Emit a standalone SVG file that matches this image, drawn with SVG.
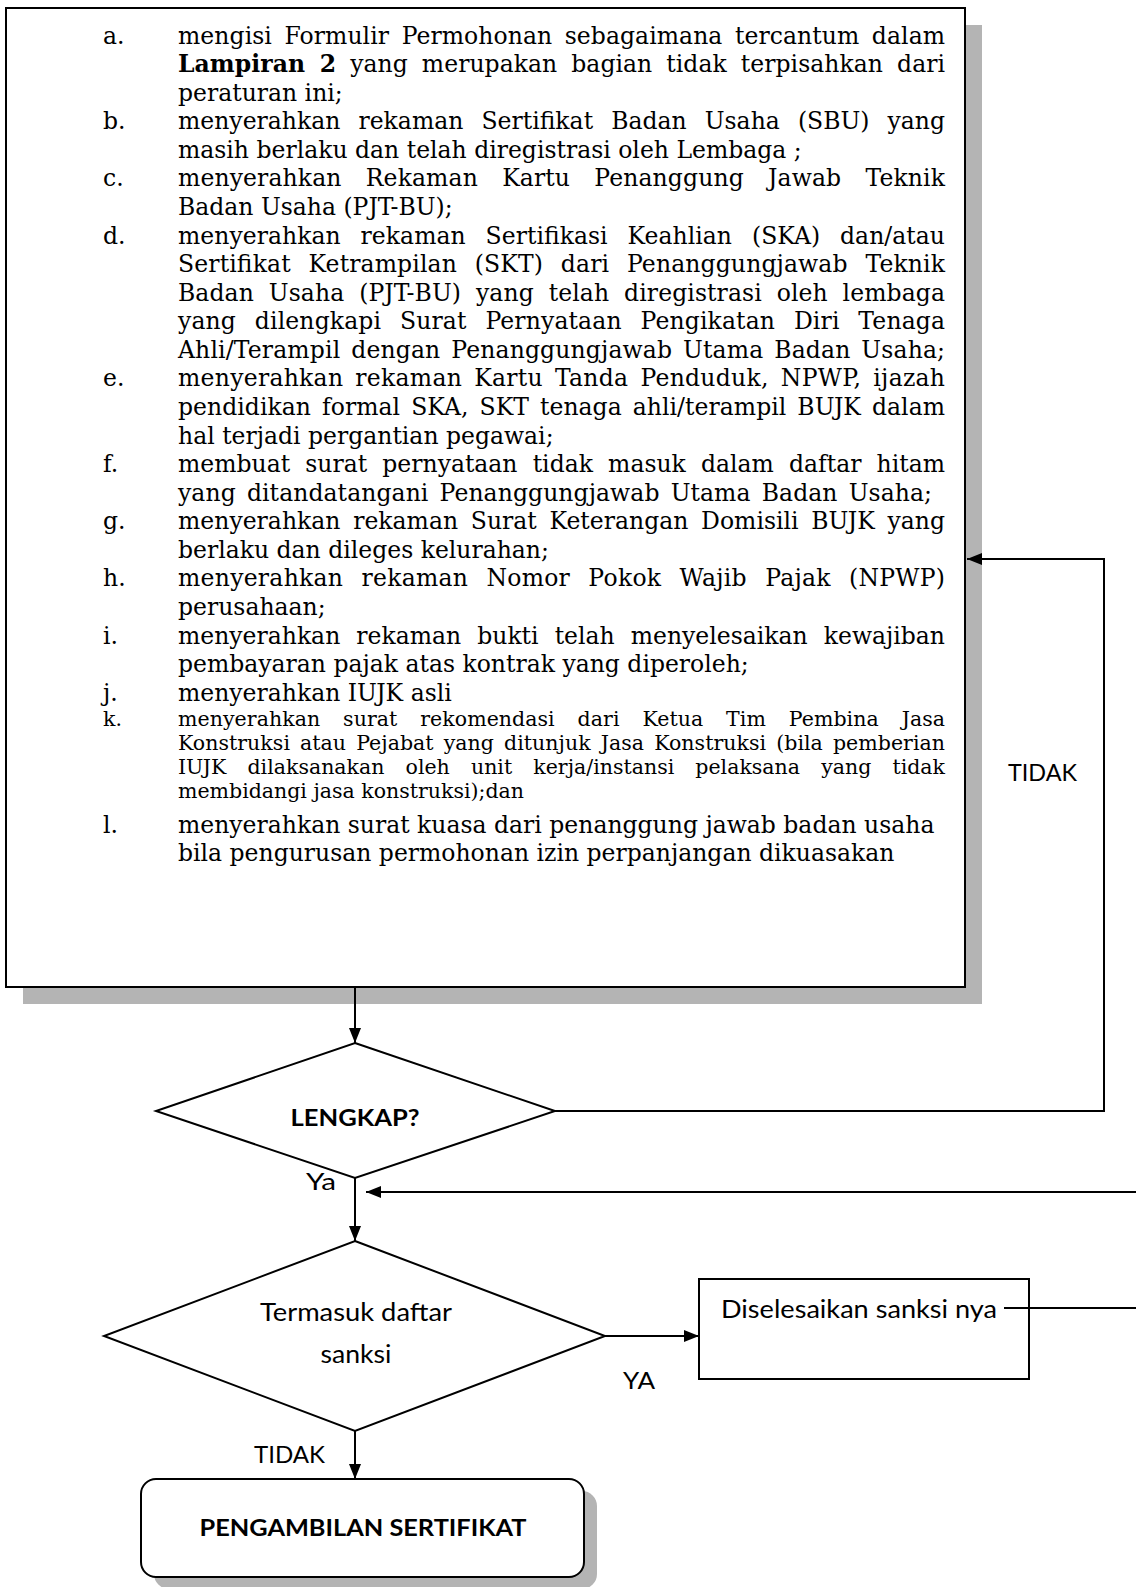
<svg xmlns="http://www.w3.org/2000/svg" width="1136" height="1587" viewBox="0 0 1136 1587">
<style>
.t{font-family:"DejaVu Serif","Liberation Serif",serif;font-size:23.5px;fill:#000}
.k{font-family:"DejaVu Serif","Liberation Serif",serif;font-size:20.5px;fill:#000}
.s{font-family:Lato,"Open Sans","Liberation Sans",sans-serif;fill:#000}
.b{font-weight:bold}
.ln{fill:none;stroke:#000;stroke-width:2}
.shape{fill:#fff;stroke:#000;stroke-width:2}
.sh{fill:#b4b4b4}
</style>
<defs>
<marker id="ah" viewBox="0 0 15 12" refX="15" refY="6" markerWidth="15" markerHeight="12" markerUnits="userSpaceOnUse" orient="auto">
<path d="M0,0 L15,6 L0,12 Z" fill="#000"/>
</marker>
</defs>
<rect width="1136" height="1587" fill="#fff"/>

<g id="node-requirements">
<rect class="sh" x="23" y="25" width="959" height="979"/>
<rect class="shape" x="6" y="8" width="959" height="979" stroke-width="2.5"/>
<g class="t">
<text x="103" y="43.5">a.</text>
<text x="178" y="43.5" word-spacing="5" textLength="767" lengthAdjust="spacing">mengisi Formulir Permohonan sebagaimana tercantum dalam</text>
<text x="178" y="72.1" word-spacing="6.5" textLength="767" lengthAdjust="spacing"><tspan class="b">Lampiran 2</tspan> yang merupakan bagian tidak terpisahkan dari</text>
<text x="178" y="100.6">peraturan ini;</text>
<text x="103" y="129.2">b.</text>
<text x="178" y="129.2" word-spacing="10.6" textLength="767" lengthAdjust="spacing">menyerahkan rekaman Sertifikat Badan Usaha (SBU) yang</text>
<text x="178" y="157.8">masih berlaku dan telah diregistrasi oleh Lembaga ;</text>
<text x="103" y="186.4">c.</text>
<text x="178" y="186.4" word-spacing="16.7" textLength="767" lengthAdjust="spacing">menyerahkan Rekaman Kartu Penanggung Jawab Teknik</text>
<text x="178" y="214.9">Badan Usaha (PJT-BU);</text>
<text x="103" y="243.5">d.</text>
<text x="178" y="243.5" word-spacing="12.4" textLength="767" lengthAdjust="spacing">menyerahkan rekaman Sertifikasi Keahlian (SKA) dan/atau</text>
<text x="178" y="272.1" word-spacing="10.2" textLength="767" lengthAdjust="spacing">Sertifikat Ketrampilan (SKT) dari Penanggungjawab Teknik</text>
<text x="178" y="300.6" word-spacing="7.3" textLength="767" lengthAdjust="spacing">Badan Usaha (PJT-BU) yang telah diregistrasi oleh lembaga</text>
<text x="178" y="329.2" word-spacing="11.2" textLength="767" lengthAdjust="spacing">yang dilengkapi Surat Pernyataan Pengikatan Diri Tenaga</text>
<text x="178" y="357.8" word-spacing="3.3" textLength="767" lengthAdjust="spacing">Ahli/Terampil dengan Penanggungjawab Utama Badan Usaha;</text>
<text x="103" y="386.3">e.</text>
<text x="178" y="386.3" word-spacing="4.3" textLength="767" lengthAdjust="spacing">menyerahkan rekaman Kartu Tanda Penduduk, NPWP, ijazah</text>
<text x="178" y="414.9" word-spacing="3.5" textLength="767" lengthAdjust="spacing">pendidikan formal SKA, SKT tenaga ahli/terampil BUJK dalam</text>
<text x="178" y="443.5">hal terjadi pergantian pegawai;</text>
<text x="103" y="472.1">f.</text>
<text x="178" y="472.1" word-spacing="7.7" textLength="767" lengthAdjust="spacing">membuat surat pernyataan tidak masuk dalam daftar hitam</text>
<text x="178" y="500.6" word-spacing="3.6" textLength="754" lengthAdjust="spacing">yang ditandatangani Penanggungjawab Utama Badan Usaha;</text>
<text x="103" y="529.2">g.</text>
<text x="178" y="529.2" word-spacing="5.2" textLength="767" lengthAdjust="spacing">menyerahkan rekaman Surat Keterangan Domisili BUJK yang</text>
<text x="178" y="557.8">berlaku dan dileges kelurahan;</text>
<text x="103" y="586.3">h.</text>
<text x="178" y="586.3" word-spacing="10.5" textLength="767" lengthAdjust="spacing">menyerahkan rekaman Nomor Pokok Wajib Pajak (NPWP)</text>
<text x="178" y="614.9">perusahaan;</text>
<text x="103" y="643.5">i.</text>
<text x="178" y="643.5" word-spacing="8.6" textLength="767" lengthAdjust="spacing">menyerahkan rekaman bukti telah menyelesaikan kewajiban</text>
<text x="178" y="672">pembayaran pajak atas kontrak yang diperoleh;</text>
<text x="103" y="700.6">j.</text>
<text x="178" y="700.6">menyerahkan IUJK asli</text>
<text x="103" y="833">l.</text>
<text x="178" y="833">menyerahkan surat kuasa dari penanggung jawab badan usaha</text>
<text x="178" y="861">bila pengurusan permohonan izin perpanjangan dikuasakan</text>
</g>
<g class="k">
<text x="103" y="726">k.</text>
<text x="178" y="726" word-spacing="16.3" textLength="767" lengthAdjust="spacing">menyerahkan surat rekomendasi dari Ketua Tim Pembina Jasa</text>
<text x="178" y="750" word-spacing="3.5" textLength="767" lengthAdjust="spacing">Konstruksi atau Pejabat yang ditunjuk Jasa Konstruksi (bila pemberian</text>
<text x="178" y="774" word-spacing="14.6" textLength="767" lengthAdjust="spacing">IUJK dilaksanakan oleh unit kerja/instansi pelaksana yang tidak</text>
<text x="178" y="798">membidangi jasa konstruksi);dan</text>
</g>
</g>

<g id="node-lengkap">
<polygon class="shape" points="355,1043 555,1111 355,1178 156,1111"/>
<text class="s b" x="355" y="1126" font-size="22" text-anchor="middle" textLength="129" lengthAdjust="spacingAndGlyphs">LENGKAP?</text>
</g>

<g id="node-termasuk">
<polygon class="shape" points="355,1241 605,1336 355,1431 104,1336"/>
<text class="s" x="356" y="1321" font-size="25" text-anchor="middle" textLength="192" lengthAdjust="spacingAndGlyphs">Termasuk daftar</text>
<text class="s" x="356" y="1363" font-size="25" text-anchor="middle" textLength="71" lengthAdjust="spacingAndGlyphs">sanksi</text>
</g>

<g id="node-diselesaikan">
<rect class="shape" x="699" y="1279" width="330" height="100"/>
<text class="s" x="721" y="1318" font-size="25" textLength="276" lengthAdjust="spacingAndGlyphs">Diselesaikan sanksi nya</text>
</g>

<g id="node-pengambilan">
<rect class="sh" x="154" y="1491" width="443" height="98" rx="15"/>
<rect class="shape" x="141" y="1479" width="443" height="98" rx="15"/>
<text class="s b" x="363" y="1536" font-size="23" text-anchor="middle" textLength="327" lengthAdjust="spacingAndGlyphs">PENGAMBILAN SERTIFIKAT</text>
</g>

<g id="connectors">
<path class="ln" d="M355,987 V1043" marker-end="url(#ah)"/>
<path class="ln" d="M555,1111 H1104 V559 H967" marker-end="url(#ah)"/>
<path class="ln" d="M355,1178 V1241" marker-end="url(#ah)"/>
<path class="ln" d="M1136,1192 H366" marker-end="url(#ah)"/>
<path class="ln" d="M605,1336 H699" marker-end="url(#ah)"/>
<path class="ln" d="M1004,1308 H1136"/>
<path class="ln" d="M355,1431 V1479" marker-end="url(#ah)"/>
</g>

<g id="labels">
<text class="s" x="1008" y="781" font-size="23" textLength="69" lengthAdjust="spacingAndGlyphs">TIDAK</text>
<text class="s" x="306" y="1190" font-size="23" textLength="30" lengthAdjust="spacingAndGlyphs">Ya</text>
<text class="s" x="623" y="1389" font-size="23" textLength="32" lengthAdjust="spacingAndGlyphs">YA</text>
<text class="s" x="254" y="1463" font-size="23" textLength="71" lengthAdjust="spacingAndGlyphs">TIDAK</text>
</g>
</svg>
